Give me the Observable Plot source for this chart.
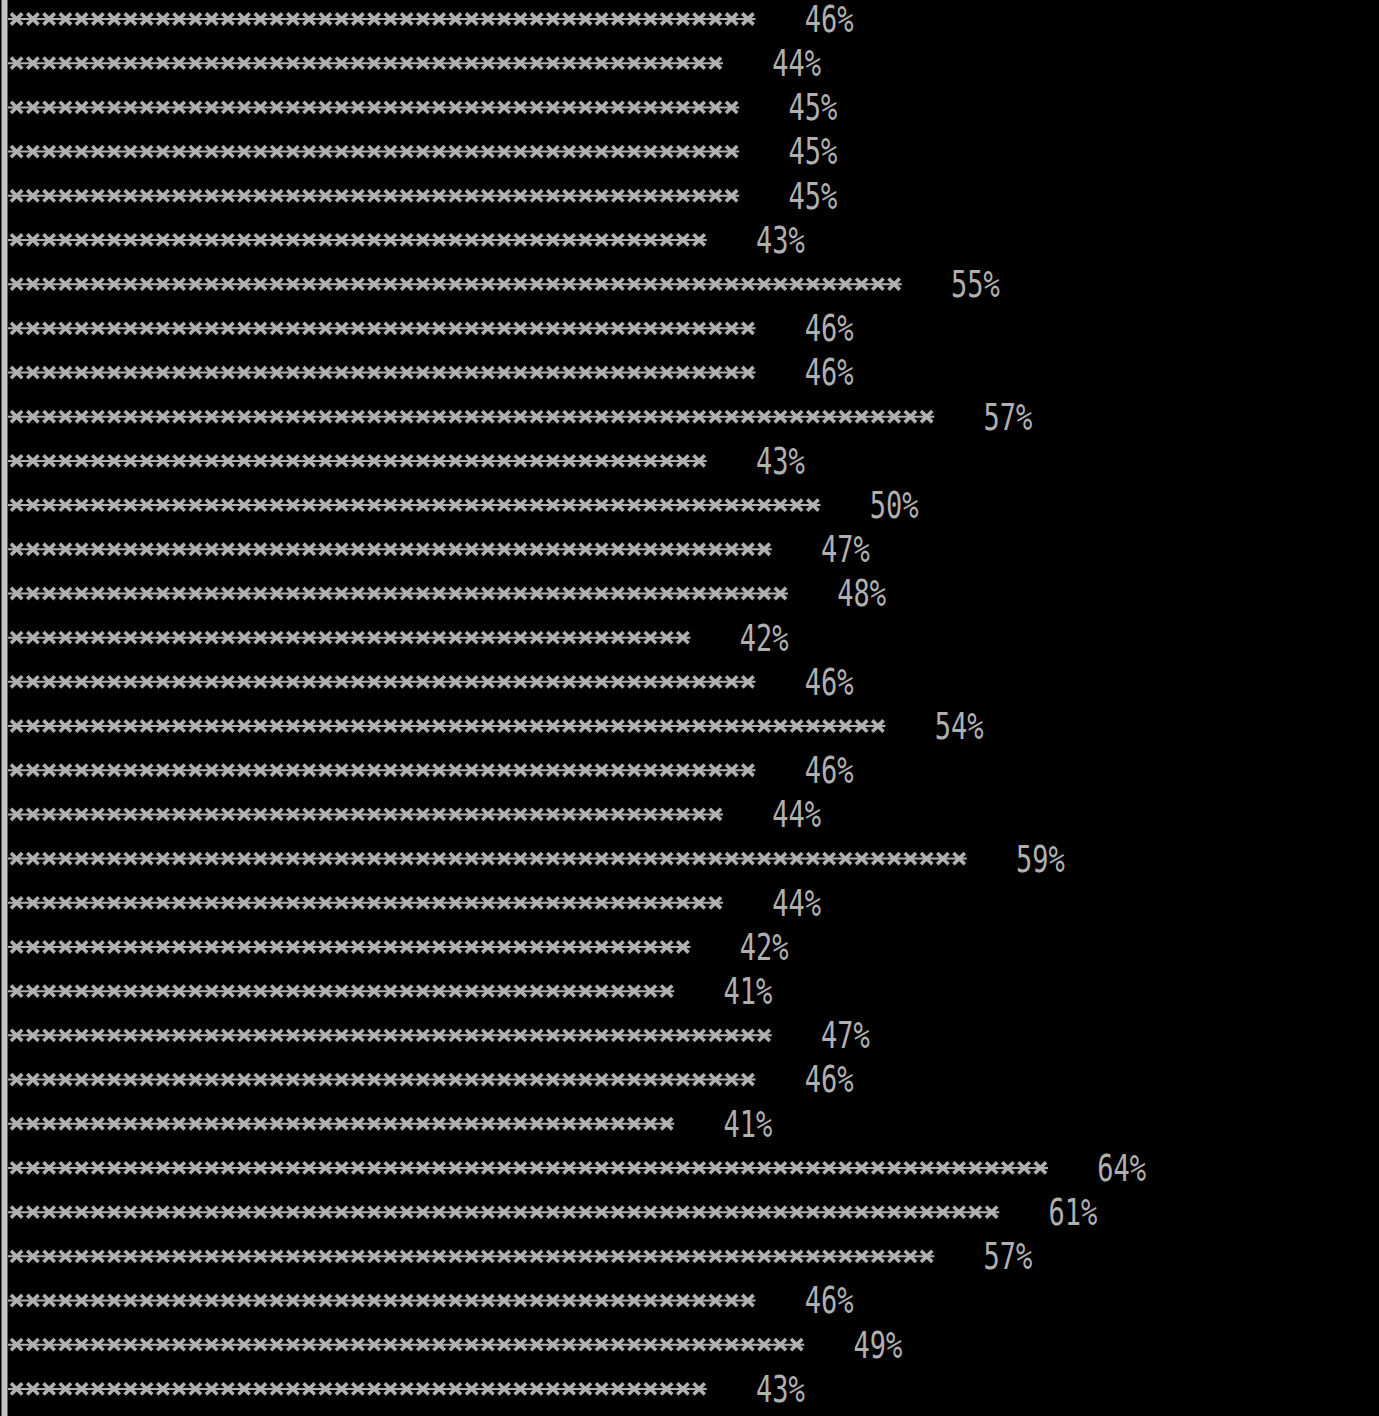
<!DOCTYPE html>
<html>
<head>
<meta charset="utf-8">
<script src="https://cdn.jsdelivr.net/npm/d3@7"></script>
<script src="https://cdn.jsdelivr.net/npm/@observablehq/plot@0.6"></script>
<style>
  html, body { margin: 0; padding: 0; background: #000; }
  #chart svg { display: block; background: #000; }
</style>
</head>
<body>
<div id="chart"></div>
<script>
// Percent values, one row each (top to bottom); the last row is cut off by the window
const values = [46, 44, 45, 45, 45, 43, 55, 46, 46, 57, 43, 50, 47, 48, 42, 46,
                54, 46, 44, 59, 44, 42, 41, 47, 46, 41, 64, 61, 57, 46, 49, 43, 58];
const rowIndex = values.map((_, i) => i);
const labels = values.map(v => `${v}%`);

const rows = rowIndex.map(i => ({row: i, value: values[i], label: labels[i]}));
// one asterisk glyph per percent point
const stars = rows.flatMap(d => d3.range(d.value).map(k => ({row: d.row, pos: k + 0.5})));

const W = 1379, H = 1416;
const unit = 16.25;      // width of one character cell
const ink = "#b0b0b0";

const chart = Plot.plot({
  width: W,
  height: H,
  margin: 0,
  marginLeft: 4,
  x: {domain: [0, 80], range: [8, 8 + 80 * unit], axis: null},
  y: {domain: [0, 32], range: [18.5, 18.5 + 32 * 44.19], axis: null},
  style: {background: "#000"},
  marks: [
    Plot.frame({anchor: "left", stroke: "#c4c4c4", strokeWidth: 6}),
    Plot.ruleY(rows, {y: "row", x1: 0, x2: "value", stroke: ink, strokeWidth: 2}),
    Plot.dot(stars, {x: "pos", y: "row", symbol: "times", r: 5.2, stroke: ink, strokeWidth: 3.6}),
    Plot.dot(stars, {x: "pos", y: "row", symbol: "square", r: 2.6, fill: ink}),
    Plot.text(rows, {
      x: d => d.value + 3, y: "row", text: "label",
      textAnchor: "start", fill: ink, dy: 0.8,
      fontFamily: "DejaVu Sans Mono", fontSize: 27
    })
  ]
});

// stretch label glyphs vertically to mimic the tall terminal font
d3.select(chart).selectAll("text").each(function() {
  const t = this.getAttribute("transform") || "";
  this.setAttribute("transform", t + " scale(1,1.4)");
});

document.getElementById("chart").appendChild(chart);
</script>
</body>
</html>
